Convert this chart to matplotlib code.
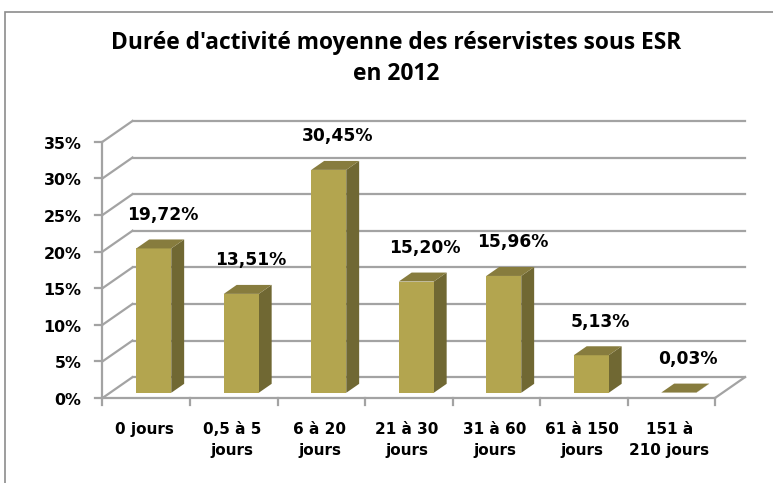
import matplotlib
matplotlib.use("Agg")
import matplotlib.pyplot as plt
from matplotlib.patches import Polygon, Rectangle

categories = ["0 jours", "0,5 à 5\njours", "6 à 20\njours", "21 à 30\njours",
              "31 à 60\njours", "61 à 150\njours", "151 à\n210 jours"]
values = [19.72, 13.51, 30.45, 15.20, 15.96, 5.13, 0.03]
value_labels = ["19,72%", "13,51%", "30,45%", "15,20%", "15,96%", "5,13%", "0,03%"]
yticks = [0, 5, 10, 15, 20, 25, 30, 35]
ytick_labels = ["0%", "5%", "10%", "15%", "20%", "25%", "30%", "35%"]
title_lines = ["Durée d'activité moyenne des réservistes sous ESR", "en 2012"]

FONT = "DejaVu Sans"
TFONT = "Open Sans"
W, H = 773, 483
fig = plt.figure(figsize=(W / 100, H / 100), dpi=100)

# depth offsets (in data units)
ox, oy = 0.343, 2.85
n = len(categories)
ymax = 35
d0, d1 = 0.25, 0.68
bw = 0.40

# axes placement (pixels)
px_left, px_right = 102.5, 102.5 + 87.5 * (n + ox)
px_bottom = 398
px_per_pct = 7.32
px_top = px_bottom - (ymax + oy) * px_per_pct
ax = fig.add_axes([px_left / W, (H - px_bottom) / H,
                   (px_right - px_left) / W, (px_bottom - px_top) / H])
ax.set_xlim(0, n + ox)
ax.set_ylim(0, ymax + oy)
ax.axis("off")

grid_c = "#a3a3a3"
glw = 1.6
for y in yticks:
    ax.plot([ox, n + ox], [y + oy, y + oy], color=grid_c, lw=glw, clip_on=False, zorder=1)
    ax.plot([0, ox], [y, y + oy], color=grid_c, lw=glw, clip_on=False, zorder=1)
ax.plot([0, n], [0, 0], color=grid_c, lw=glw, clip_on=False, zorder=1)
ax.plot([n, n + ox], [0, oy], color=grid_c, lw=glw, clip_on=False, zorder=1)
ax.plot([0, 0], [0, ymax], color=grid_c, lw=glw, clip_on=False, zorder=1)

tick_len_x = 7 / 87.5
for y, lab in zip(yticks, ytick_labels):
    ax.plot([-tick_len_x, 0], [y, y], color=grid_c, lw=glw, clip_on=False, zorder=1)
    ax.text(-21 / 87.5, y - 0.35, lab, ha="right", va="center", fontsize=11.4,
            fontweight="bold", family=FONT, color="black")
tick_len_y = 7 / px_per_pct
for i in range(n + 1):
    ax.plot([i, i], [0, -tick_len_y], color=grid_c, lw=glw, clip_on=False, zorder=1)
for i, lab in enumerate(categories):
    ax.text(i + 0.48, -3.3, lab, ha="center", va="top", fontsize=11,
            fontweight="bold", family=FONT, color="black", linespacing=1.45)

front_c = "#b3a54f"
side_c = "#706833"
top_c = "#877c3e"

xs = [i + 0.5 + d0 * ox for i in range(n)]
ax.bar(xs, values, width=bw, bottom=d0 * oy, color=front_c, zorder=3, clip_on=False)
dd = d1 - d0
for x, v in zip(xs, values):
    xl, xr = x - bw / 2, x + bw / 2
    yb, yt = d0 * oy, v + d0 * oy
    side = Polygon([(xr, yb), (xr + dd * ox, yb + dd * oy), (xr + dd * ox, yt + dd * oy), (xr, yt)],
                   closed=True, facecolor=side_c, edgecolor="none", zorder=2.9, clip_on=False)
    top = Polygon([(xl, yt), (xr, yt), (xr + dd * ox, yt + dd * oy), (xl + dd * ox, yt + dd * oy)],
                  closed=True, facecolor=top_c, edgecolor="none", zorder=3.1, clip_on=False)
    ax.add_patch(side)
    ax.add_patch(top)

for i, (v, lab) in enumerate(zip(values, value_labels)):
    ax.text(i + 0.5 + ox * 0.55, v + d0 * oy + 4.6, lab, ha="center", va="center",
            fontsize=12.3, fontweight="bold", family=FONT, color="black", zorder=5)

# title: fit first line to the reference width
t1 = fig.text(396.5 / W, 1 - 43 / H, title_lines[0], ha="center", va="center",
              fontsize=15, fontweight="bold", family=TFONT)
fig.canvas.draw()
wpx = t1.get_window_extent().width
fs = 15 * 569 / wpx
t1.set_fontsize(fs)
fig.text(396.5 / W, 1 - 74 / H, title_lines[1], ha="center", va="center",
         fontsize=fs, fontweight="bold", family=TFONT)

frame = Rectangle((5 / W, -0.1), 1.2, (H - 12) / H + 0.1, transform=fig.transFigure,
                  fill=False, edgecolor="#8c8c8c", lw=1.2)
fig.add_artist(frame)

fig.savefig("out.png", dpi=100, facecolor="white")
